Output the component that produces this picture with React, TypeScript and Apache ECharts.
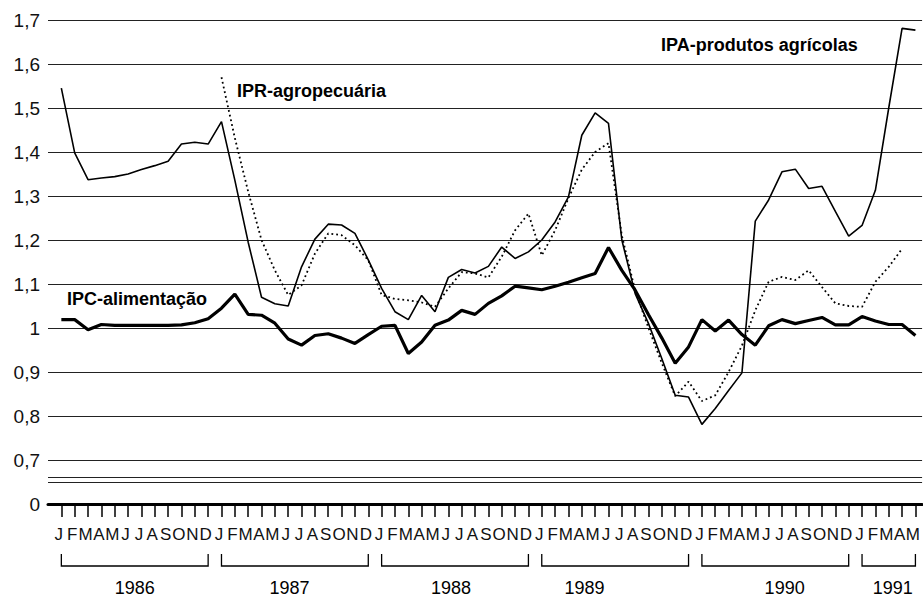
import React, { useEffect, useRef } from 'react';
import * as echarts from 'echarts';

// Month letters shown under the axis (Jan 1986 .. May 1991)
const MONTH_LETTERS = ['J', 'F', 'M', 'A', 'M', 'J', 'J', 'A', 'S', 'O', 'N', 'D'];

// IPA - produtos agrícolas (thin solid line)
const IPA = [
  1.545, 1.398, 1.337, 1.341, 1.344, 1.350, 1.360, 1.369, 1.379, 1.418, 1.422, 1.418,
  1.469, 1.336, 1.195, 1.070, 1.055, 1.050, 1.139, 1.202, 1.236, 1.234, 1.215, 1.155,
  1.090, 1.037, 1.019, 1.074, 1.037, 1.115, 1.133, 1.125, 1.140, 1.184, 1.158, 1.173,
  1.200, 1.241, 1.298, 1.438, 1.489, 1.465, 1.200, 1.078, 1.010, 0.930, 0.847, 0.843,
  0.781, 0.817, 0.858, 0.898, 1.243, 1.291, 1.355, 1.361, 1.317, 1.322, 1.265, 1.209,
  1.233, 1.313, 1.500, 1.681, 1.677,
];

// IPC - alimentação (thick solid line)
const IPC = [
  1.019, 1.019, 0.996, 1.008, 1.006, 1.006, 1.006, 1.006, 1.006, 1.007, 1.012, 1.021,
  1.045, 1.077, 1.031, 1.029, 1.011, 0.975, 0.961, 0.983, 0.987, 0.977, 0.965, 0.985,
  1.004, 1.006, 0.942, 0.968, 1.006, 1.018, 1.040, 1.031, 1.056, 1.073, 1.095, 1.091,
  1.087, 1.095, 1.104, 1.114, 1.124, 1.183, 1.131, 1.086, 1.030, 0.977, 0.920, 0.957,
  1.019, 0.993, 1.018, 0.985, 0.961, 1.005, 1.019, 1.010, 1.017, 1.024, 1.007, 1.007,
  1.026, 1.016, 1.008, 1.008, 0.983,
];

// IPR - agropecuária (dotted line), starts Jan 1987
const IPR = [
  null, null, null, null, null, null, null, null, null, null, null, null,
  1.570, 1.432, 1.310, 1.200, 1.131, 1.075, 1.097, 1.169, 1.215, 1.211, 1.188, 1.154,
  1.075, 1.066, 1.063, 1.058, 1.048, 1.090, 1.127, 1.124, 1.115, 1.162, 1.222, 1.260,
  1.165, 1.222, 1.295, 1.360, 1.400, 1.420, 1.210, 1.085, 1.000, 0.920, 0.845, 0.878,
  0.834, 0.847, 0.900, 0.960, 1.040, 1.105, 1.116, 1.109, 1.131, 1.093, 1.056, 1.050,
  1.048, 1.105, 1.139, 1.180, null,
];

// Year brackets (month indices from Jan 1986)
const YEARS = ['1986', '1987', '1988', '1989', '1990', '1991'];
const YEAR_START = [0, 12, 24, 36, 48, 60];
const YEAR_END = [11, 23, 35, 47, 59, 64];
const YEAR_LABEL_AT = [5.5, 17.1, 29.2, 39.2, 54.2, 62.3];

// Axis break lines drawn just under 0,7
const BREAK_VALUES = [0.661, 0.645];

const FONT = '"Liberation Sans", Arial, Helvetica, sans-serif';

const toPairs = (arr: (number | null)[]) =>
  arr.map((v, i) => [i, v] as [number, number | null]).filter((p) => p[1] !== null);

export default function App() {
  const ref = useRef<HTMLDivElement>(null);

  useEffect(() => {
    if (!ref.current) return;
    const chart = echarts.init(ref.current, null, { renderer: 'svg' });
    const monthIdx = IPA.map((_, i) => i);

    const annotation = (text: string, x: number, y: number) => ({
      type: 'text',
      x,
      y,
      style: {
        text,
        verticalAlign: 'middle',
        fontSize: 18,
        fontWeight: 'bold',
        fontFamily: FONT,
        fill: '#000',
      },
    });

    const option: any = {
      animation: false,
      backgroundColor: '#ffffff',
      grid: { left: 48, right: 0, top: 20, bottom: 96, containLabel: false },
      xAxis: {
        type: 'value',
        min: -1,
        max: 64.5,
        axisLine: { show: true, onZero: false, lineStyle: { color: '#000', width: 3 } },
        axisTick: {
          show: true,
          customValues: monthIdx,
          length: 13,
          lineStyle: { color: '#000', width: 1.5 },
        },
        axisLabel: {
          customValues: monthIdx,
          formatter: (v: number) => MONTH_LETTERS[Math.round(v) % 12],
          margin: 22,
          fontSize: 17,
          fontFamily: FONT,
          color: '#111',
          padding: [0, 5, 0, 0],
        },
        splitLine: { show: false },
      },
      yAxis: {
        type: 'value',
        min: 0.6,
        max: 1.7,
        interval: 0.1,
        axisLine: { show: false },
        axisTick: { show: false },
        axisLabel: {
          margin: 8,
          fontSize: 19,
          fontFamily: FONT,
          color: '#111',
          formatter: (v: number) => {
            const r = Math.round(v * 10) / 10;
            if (r < 0.65) return '0';
            if (r === 1) return '1';
            return r.toFixed(1).replace('.', ',');
          },
        },
        splitLine: { show: true, lineStyle: { color: '#222', width: 1 } },
      },
      series: [
        {
          name: 'IPA-produtos agrícolas',
          type: 'line',
          data: toPairs(IPA),
          showSymbol: false,
          symbol: 'none',
          lineStyle: { color: '#000', width: 1.6 },
          z: 3,
        },
        {
          name: 'IPR-agropecuária',
          type: 'line',
          data: toPairs(IPR),
          showSymbol: false,
          symbol: 'none',
          lineStyle: { color: '#000', width: 1.8, type: [1.8, 3] },
          z: 3,
        },
        {
          name: 'IPC-alimentação',
          type: 'line',
          data: toPairs(IPC),
          showSymbol: false,
          symbol: 'none',
          lineStyle: { color: '#000', width: 3.2 },
          z: 4,
          markLine: {
            silent: true,
            symbol: 'none',
            label: { show: false },
            lineStyle: { color: '#222', width: 1, type: 'solid' },
            data: BREAK_VALUES.map((v) => ({ yAxis: v })),
          },
        },
        {
          name: 'years',
          type: 'custom',
          clip: false,
          silent: true,
          data: YEARS.map((_, k) => [YEAR_START[k], YEAR_END[k], YEAR_LABEL_AT[k], 0.6]),
          encode: { x: [0, 1, 2], y: 3 },
          renderItem: (params: any, api: any) => {
            const s = api.coord([api.value(0), 0.6]);
            const e = api.coord([api.value(1), 0.6]);
            const l = api.coord([api.value(2), 0.6]);
            const yLine = s[1] + 62;
            const yTop = s[1] + 50;
            return {
              type: 'group',
              children: [
                {
                  type: 'polyline',
                  shape: { points: [[s[0], yTop], [s[0], yLine], [e[0], yLine], [e[0], yTop]] },
                  style: { stroke: '#000', lineWidth: 1.3, fill: null },
                },
                {
                  type: 'text',
                  x: l[0],
                  y: s[1] + 84,
                  style: {
                    text: YEARS[params.dataIndex],
                    align: 'center',
                    verticalAlign: 'middle',
                    fontSize: 18,
                    fontFamily: FONT,
                    fill: '#000',
                  },
                },
              ],
            };
          },
        },
      ],
      graphic: [
        annotation('IPA-produtos agrícolas', 661, 45),
        annotation('IPR-agropecuária', 237, 91),
        annotation('IPC-alimentação', 67, 299),
      ],
    };

    chart.setOption(option);
    return () => chart.dispose();
  }, []);

  return (
    <div
      style={{ position: 'fixed', left: 0, top: 0, width: 923, height: 600, background: '#fff' }}
    >
      <div ref={ref} style={{ width: 923, height: 600 }} />
    </div>
  );
}
